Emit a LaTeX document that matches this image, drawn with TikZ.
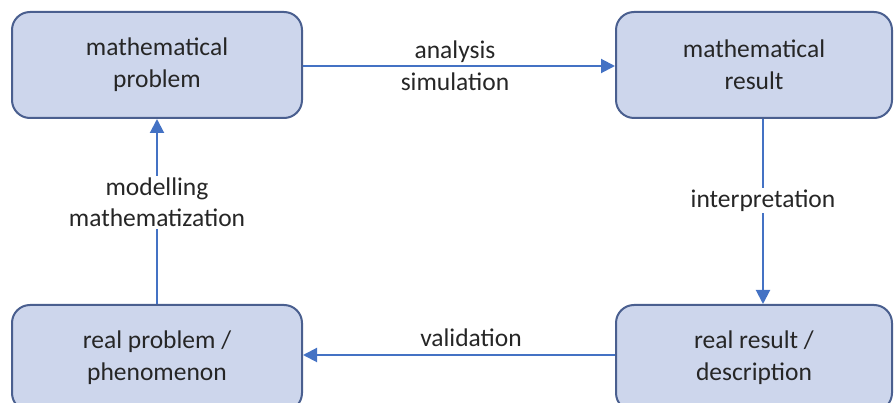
\documentclass[tikz,border=0pt]{standalone}
\usepackage{fontspec}
\setmainfont{Carlito}
\usetikzlibrary{arrows.meta}
\definecolor{boxfill}{HTML}{CDD6EC}
\definecolor{boxline}{HTML}{4A5F8F}
\definecolor{arrowc}{HTML}{4472C4}
\definecolor{txt}{HTML}{262626}
\tikzset{
  stagebox/.style={draw=boxline, line width=2pt, fill=boxfill, rounded corners=18pt,
    minimum height=106pt, align=center, text=txt, inner sep=0pt,
    font=\fontsize{25.5}{32}\selectfont},
  flow/.style={draw=arrowc, line width=2pt, -{Triangle[length=14pt,width=14pt]}},
  lbl/.style={text=txt, align=center, font=\fontsize{25.5}{31}\selectfont, inner sep=2pt}
}
\begin{document}
\begin{tikzpicture}[x=1pt,y=-1pt]
\useasboundingbox (0,0) rectangle (895,403);
\clip (0,0) rectangle (895,403);
\node[stagebox, minimum width=290pt] (tl) at (157,65) {mathematical\\problem};
\node[stagebox, minimum width=276pt] (tr) at (754,65) {mathematical\\result};
\node[stagebox, minimum width=290pt] (bl) at (157,358) {real problem /\\phenomenon};
\node[stagebox, minimum width=276pt] (br) at (754,358) {real result /\\description};
\path[flow] ([yshift=-1pt]tl.east) -- node[lbl, xshift=-4pt] {analysis\\[1pt]simulation} ([yshift=-1pt]tr.west);
\path[flow] ([xshift=9pt]tr.south) -- node[lbl, pos=0.44, fill=white] {interpretation} ([xshift=9pt]br.north);
\path[flow] ([yshift=3pt]br.west) -- node[lbl, above=5pt, xshift=12pt] {validation} ([yshift=3pt]bl.east);
\path[flow] (bl.north) -- node[lbl, pos=0.55, fill=white] {modelling\\mathematization} (tl.south);
\end{tikzpicture}
\end{document}
